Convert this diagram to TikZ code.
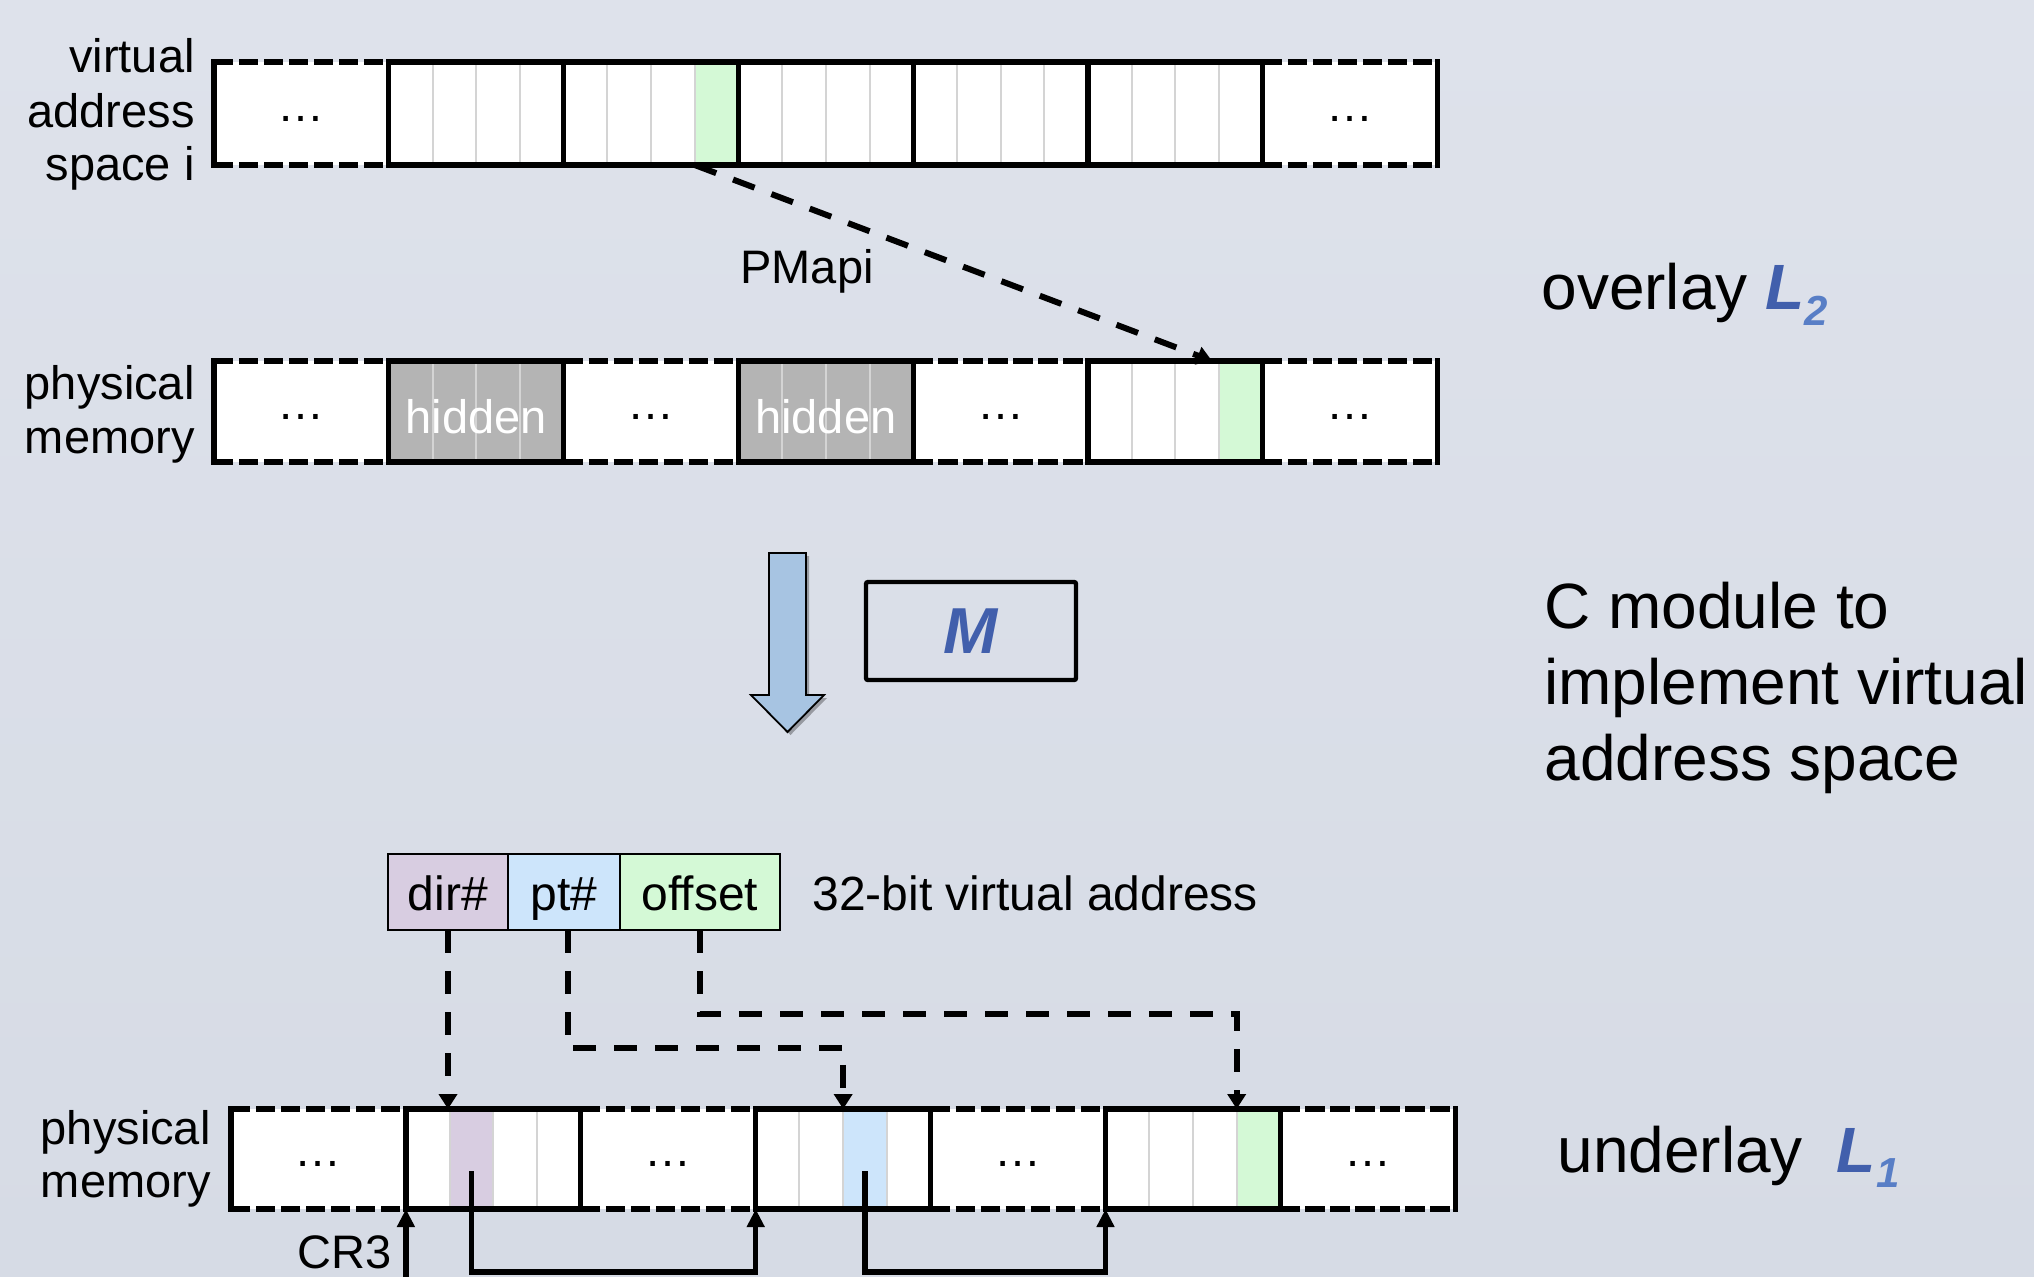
\documentclass[tikz,border=0pt]{standalone}
\usepackage{fontspec}
\setmainfont{Liberation Sans}
\usetikzlibrary{arrows.meta,calc,shadows}
\definecolor{bgtop}{RGB}{222,226,235}
\definecolor{bgbot}{RGB}{214,219,229}
\definecolor{grn}{RGB}{212,249,214}
\definecolor{pur}{RGB}{216,205,225}
\definecolor{blu}{RGB}{205,229,251}
\definecolor{hid}{RGB}{180,180,180}
\definecolor{divc}{RGB}{212,212,212}
\definecolor{hdivc}{RGB}{212,212,212}
\definecolor{mblue}{RGB}{65,95,172}
\definecolor{sblue}{RGB}{88,126,198}
\definecolor{arrfill}{RGB}{167,196,226}
\begin{document}
\begin{tikzpicture}[x=0.5pt,y=-0.5pt,
  cell/.style={fill=white, minimum width=87.4pt, minimum height=51pt, inner sep=0pt, outer sep=0pt,
    font=\fontsize{23.5}{23.5}\selectfont, text height=7.5pt, text depth=0pt},
  hidcell/.style={cell, fill=hid},
  divider/.style={draw=divc, line width=1pt},
  hdivider/.style={draw=hdivc, line width=1pt},
  pageborder/.style={draw=black, line width=2.6pt},
  gapborder/.style={draw=black, line width=2.6pt, dash pattern=on 9.7pt off 2.8pt},
  endborder/.style={draw=black, line width=2.8pt, line cap=rect},
  lbl/.style={font=\fontsize{23.5}{23.5}\selectfont, inner sep=0pt, anchor=base east},
  big/.style={font=\fontsize{32}{32}\selectfont, inner sep=0pt, anchor=base west},
  hidtext/.style={font=\fontsize{23.5}{23.5}\selectfont, text=white, inner sep=0pt, text height=21.5pt, text depth=0pt},
  field/.style={draw=black, line width=1pt, minimum height=38pt, inner sep=0pt, outer sep=0pt,
    font=\fontsize{24}{24}\selectfont, text height=18pt, text depth=0pt},
  conn/.style={line width=3pt, dash pattern=on 11.5pt off 9pt, -{Triangle[width=9pt,length=7.5pt]}},
  link/.style={line width=2.6pt, -{Triangle[width=8.5pt,length=9pt]}},
  blockarrow/.style={fill=arrfill, draw=black, line width=0.9pt,
    drop shadow={shadow xshift=1.5pt, shadow yshift=-1.5pt, opacity=0.3, fill=black}},
]
\shade[top color=bgtop, bottom color=bgbot] (0,0) rectangle (2034,1276);
\useasboundingbox (0,0) rectangle (2034,1276);

% ---------- row a: virtual address space ----------
\node[cell, minimum height=51.5pt] (a1) at (301.4,113.5) {…};
\node[cell, minimum height=51.5pt] (a2) at (476.2,113.5) {};
\node[cell, minimum height=51.5pt] (a3) at (651.0,113.5) {};
\node[cell, minimum height=51.5pt] (a4) at (825.8,113.5) {};
\node[cell, minimum height=51.5pt] (a5) at (1000.6,113.5) {};
\node[cell, minimum height=51.5pt] (a6) at (1175.4,113.5) {};
\node[cell, minimum height=51.5pt] (a7) at (1350.2,113.5) {…};

% ---------- row b: physical memory (overlay) ----------
\node[cell, minimum height=50.5pt] (b1) at (301.4,411.5) {…};
\node[hidcell, minimum height=50.5pt] (b2) at (476.2,411.5) {};
\node[cell, minimum height=50.5pt] (b3) at (651.0,411.5) {…};
\node[hidcell, minimum height=50.5pt] (b4) at (825.8,411.5) {};
\node[cell, minimum height=50.5pt] (b5) at (1000.6,411.5) {…};
\node[cell, minimum height=50.5pt] (b6) at (1175.4,411.5) {};
\node[cell, minimum height=50.5pt] (b7) at (1350.2,411.5) {…};

% ---------- row c: physical memory (underlay) ----------
\node[cell, minimum width=87.45pt, minimum height=50pt] (c1) at (318.45,1159) {…};
\node[cell, minimum width=87.45pt, minimum height=50pt] (c2) at (493.35,1159) {};
\node[cell, minimum width=87.45pt, minimum height=50pt] (c3) at (668.25,1159) {…};
\node[cell, minimum width=87.45pt, minimum height=50pt] (c4) at (843.15,1159) {};
\node[cell, minimum width=87.45pt, minimum height=50pt] (c5) at (1018.05,1159) {…};
\node[cell, minimum width=87.45pt, minimum height=50pt] (c6) at (1192.95,1159) {};
\node[cell, minimum width=87.45pt, minimum height=50pt] (c7) at (1367.85,1159) {…};

% coloured columns
\fill[grn] ($(a3.north west)!0.75!(a3.north east)$) rectangle (a3.south east);
\fill[grn] ($(b6.north west)!0.75!(b6.north east)$) rectangle (b6.south east);
\fill[pur] ($(c2.north west)!0.25!(c2.north east)$) rectangle ($(c2.south west)!0.5!(c2.south east)$);
\fill[blu] ($(c4.north west)!0.5!(c4.north east)$) rectangle ($(c4.south west)!0.75!(c4.south east)$);
\fill[grn] ($(c6.north west)!0.75!(c6.north east)$) rectangle (c6.south east);

% dividers
\foreach \n in {a2,a3,a4,a5,a6,b6,c2,c4,c6}
  \foreach \k in {0.25,0.5,0.75}
    \draw[divider] ($(\n.north west)!\k!(\n.north east)$) -- ($(\n.south west)!\k!(\n.south east)$);
\foreach \n in {b2,b4}
  \foreach \k in {0.25,0.5,0.75}
    \draw[hdivider] ($(\n.north west)!\k!(\n.north east)$) -- ($(\n.south west)!\k!(\n.south east)$);

% gap borders
\foreach \n in {a1,a7,b1,b3,b5,b7,c1,c3,c5,c7} {
  \draw[gapborder] (\n.north west) -- (\n.north east);
  \draw[gapborder] (\n.south west) -- (\n.south east);
}
\foreach \n in {a1,b1,c1} \draw[endborder] (\n.north west) -- (\n.south west);
\foreach \n in {a7,b7,c7} \draw[endborder] (\n.north east) -- (\n.south east);
% page borders
\foreach \n in {a2,a3,a4,a5,a6,b2,b4,b6,c2,c4,c6}
  \draw[pageborder] (\n.south west) rectangle (\n.north east);

\node[hidtext] (h1) at (b2) {hidden};
\node[hidtext] (h2) at (b4) {hidden};

% ---------- left labels ----------
\node[lbl] (v1) at (195,72) {virtual};
\node[lbl] (v2) at (195,127) {address};
\node[lbl] (v3) at (195,180) {space i};
\node[lbl] (p1) at (195,399) {physical};
\node[lbl] (p2) at (195,453) {memory};
\node[lbl] (q1) at (211,1144) {physical};
\node[lbl] (q2) at (211,1197) {memory};

% ---------- PMapi ----------
\coordinate (pmsrc) at ($(a3.south west)!0.75!(a3.south east)$);
\coordinate (pmdst) at ($(b6.north west)!0.71!(b6.north east)$);
\draw[conn] (pmsrc) -- (pmdst);
\node[font=\fontsize{23.5}{23.5}\selectfont, inner sep=0pt, anchor=base] (pm) at (807,283) {PMapi};

% ---------- block arrow and M ----------
\path[blockarrow] (769,553) -- (806,553) -- (806,695) -- (824,695) -- (787.5,732) -- (751,695) -- (769,695) -- cycle;
\node[draw=black, line width=2.2pt, rounded corners=1pt, minimum width=105pt, minimum height=49pt, inner sep=0pt,
  font=\fontsize{32.5}{32.5}\selectfont\bfseries\itshape, text=mblue] (mbox) at (971,631) {M};

% ---------- right texts ----------
\node[big] (ov) at (1541,309) {overlay {\color{mblue}\bfseries\itshape L}\raisebox{-8pt}{\color{sblue}\bfseries\itshape\fontsize{21}{21}\selectfont 2}};
\node[big] (cm1) at (1544,628) {C module to};
\node[big] (cm2) at (1544,704) {implement virtual};
\node[big] (cm3) at (1544,780) {address space};
\node[big] (ul) at (1557,1172) {underlay\hspace{17pt}{\color{mblue}\bfseries\itshape L}\raisebox{-7.5pt}{\color{sblue}\bfseries\itshape\fontsize{21}{21}\selectfont 1}};

% ---------- 32-bit virtual address ----------
\node[field, fill=pur, minimum width=60pt] (dir) at (448,892) {dir\#};
\node[field, fill=blu, minimum width=56pt, anchor=west] (pt) at (dir.east) {pt\#};
\node[field, fill=grn, minimum width=80pt, anchor=west] (off) at (pt.east) {offset};
\node[font=\fontsize{24}{24}\selectfont, inner sep=0pt, anchor=base west] (va) at (812,910) {32-bit virtual address};

% dashed connectors
\draw[conn] (dir.south) -- (dir.south |- c2.north);
\draw[conn] ([xshift=2pt]pt.south) -- ++(0,118) -| ($(c4.north west)!0.5!(c4.north east)$);
\draw[conn] (off.south) -- ++(0,84) -| ($(c6.north west)!0.75!(c6.north east)$);

% solid links
\coordinate (pcol) at ($(c2.west)!0.375!(c2.east)+(0,12)$);
\coordinate (bcol) at ($(c4.west)!0.625!(c4.east)+(0,12)$);
\coordinate (cr3src) at ($(c2.south west)+(0,80)$);
\draw[link] (cr3src) -- (c2.south west);
\draw[link] (pcol) -- ++(0,101) -| (c4.south west);
\draw[link] (bcol) -- ++(0,101) -| (c6.south west);
\node[font=\fontsize{23.5}{23.5}\selectfont, inner sep=0pt, anchor=base east] (cr3) at (392,1268) {CR3};
\end{tikzpicture}
\end{document}
